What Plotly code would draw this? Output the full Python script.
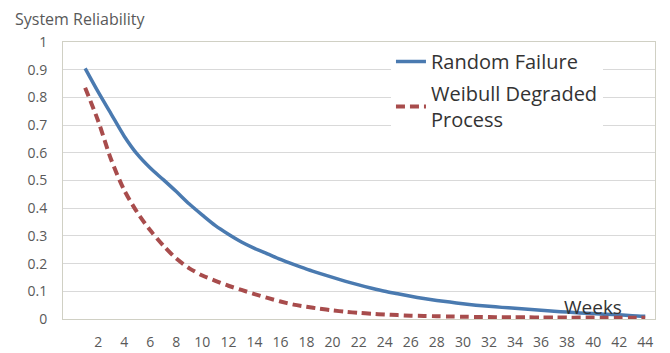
import plotly.graph_objects as go

weeks = list(range(1, 45))
random_failure = [0.905, 0.82, 0.74, 0.66, 0.595, 0.545, 0.503, 0.46, 0.415, 0.375,
                  0.337, 0.306, 0.278, 0.255, 0.235, 0.215, 0.197, 0.18, 0.165, 0.15,
                  0.136, 0.123, 0.111, 0.1, 0.091, 0.082, 0.074, 0.067, 0.061, 0.055,
                  0.05, 0.046, 0.042, 0.039, 0.035, 0.032, 0.028, 0.025, 0.022, 0.02,
                  0.017, 0.015, 0.012, 0.01]
weibull_degraded = [0.835, 0.715, 0.575, 0.465, 0.385, 0.32, 0.265, 0.218, 0.183, 0.157,
                    0.138, 0.12, 0.105, 0.09, 0.076, 0.063, 0.052, 0.044, 0.037, 0.031,
                    0.026, 0.022, 0.019, 0.016, 0.014, 0.012, 0.011, 0.01, 0.009, 0.008,
                    0.0075, 0.007, 0.0065, 0.006, 0.006, 0.0055, 0.0055, 0.005, 0.005, 0.005,
                    0.0045, 0.0045, 0.0045, 0.0045]
x_ticks = list(range(2, 45, 2))
y_ticks = [0, 0.1, 0.2, 0.3, 0.4, 0.5, 0.6, 0.7, 0.8, 0.9, 1]
y_tick_labels = ["0", "0.1", "0.2", "0.3", "0.4", "0.5", "0.6", "0.7", "0.8", "0.9", "1"]

FONT = "Open Sans"
fig = go.Figure()
fig.add_trace(go.Scatter(x=weeks, y=random_failure, mode="lines", name="Random Failure",
                         legendgroup="a",
                         line=dict(color="#4A7AB0", width=3.5, shape="spline", smoothing=0.8)))
fig.add_trace(go.Scatter(x=weeks, y=weibull_degraded, mode="lines",
                         name="Weibull Degraded<br>Process", legendgroup="b",
                         line=dict(color="#A84C4C", width=4, dash="9px,5px",
                                   shape="spline", smoothing=0.8)))

fig.update_layout(
    width=670, height=353,
    margin=dict(l=63, r=15, t=42, b=34),
    paper_bgcolor="white", plot_bgcolor="white",
    font=dict(family=FONT, color="#595959"),
    title=dict(text="System Reliability", x=15/670, xref="container", xanchor="left",
               y=1 - 19/353, yref="container", yanchor="middle",
               font=dict(family=FONT, size=16, color="#595959")),
    showlegend=True,
    legend=dict(x=0.554, y=1.0, xanchor="left", yanchor="top",
                bgcolor="white", borderwidth=0, tracegroupgap=3, valign="middle",
                font=dict(family=FONT, size=20, color="#333333")),
    annotations=[dict(text="Weeks", xref="paper", yref="paper", x=0.895, y=0.043,
                      showarrow=False, xanchor="center", yanchor="middle",
                      font=dict(family=FONT, size=19, color="#333333"))],
)
fig.update_xaxes(range=[-0.7, 44.75], tickvals=x_ticks, showgrid=False, zeroline=False,
                 showline=True, linecolor="#D0D0C4", linewidth=1, mirror=True,
                 ticks="", ticklabelstandoff=10, automargin=False,
                 tickfont=dict(family=FONT, size=14, color="#595959"))
fig.update_yaxes(range=[0, 1], tickvals=y_ticks, ticktext=y_tick_labels,
                 showgrid=True, gridcolor="#D9D9D9", gridwidth=1, zeroline=False,
                 showline=True, linecolor="#D0D0C4", linewidth=1, mirror=True,
                 ticks="", ticklabelstandoff=12, automargin=False,
                 tickfont=dict(family=FONT, size=14, color="#595959"))

fig.write_html("out.html")
